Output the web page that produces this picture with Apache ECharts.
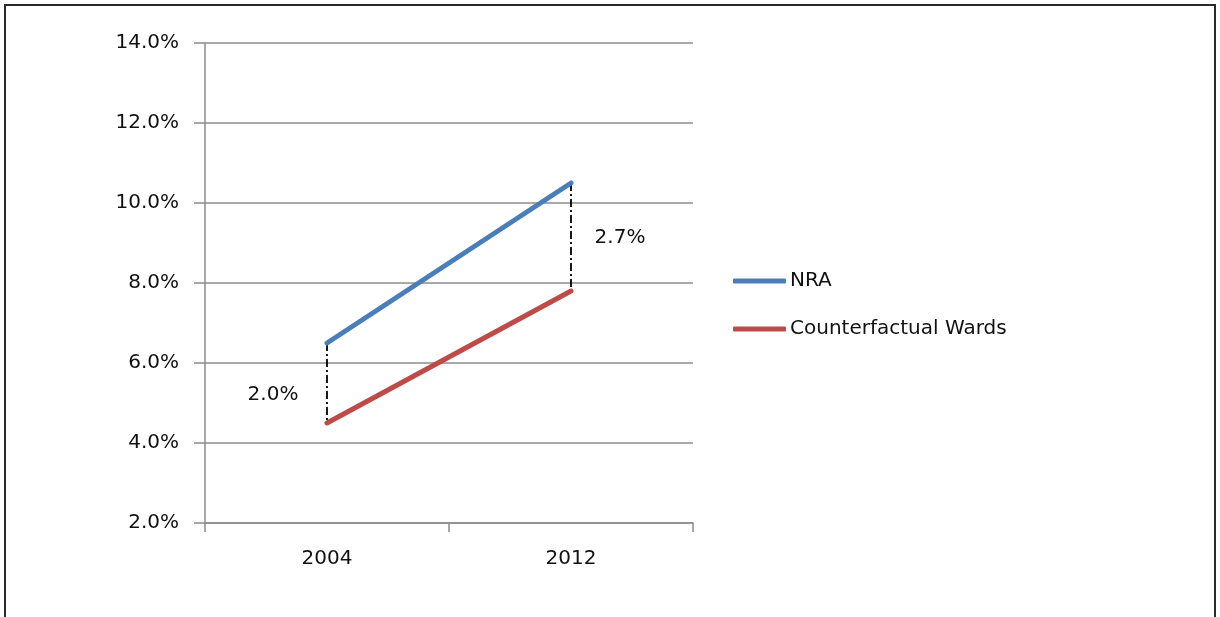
<!DOCTYPE html>
<html>
<head>
<meta charset="utf-8">
<script src="https://cdn.jsdelivr.net/npm/echarts@6/dist/echarts.min.js"></script>
<style>
  html, body { margin: 0; padding: 0; background: #fff; }
  #chart { width: 1220px; height: 617px; }
</style>
</head>
<body>
<div id="chart"></div>
<script>
// Years on the horizontal axis
const years = ['2004', '2012'];
// Shares in percent
const nra = [6.5, 10.5];
const counterfactualWards = [4.5, 7.8];
// Vertical axis range in percent
const yMin = 2;
const yMax = 14;
const yStep = 2;

const FONT = 'DejaVu Sans';
const TEXT = '#111111';
const GRID = '#8c8c8c';

const chart = echarts.init(document.getElementById('chart'), null, { renderer: 'canvas' });

// Gap between the two series at each year, drawn as a dash-dot connector
const gapLines = years.map((y, i) => [
  { coord: [i, nra[i]] },
  { coord: [i, counterfactualWards[i]] }
]);
// Gap labels sit halfway between the two lines
const gapLabelOffsets = [[-54, 12], [49, 1]];
const gapLabels = years.map((y, i) => ({
  value: [i, (nra[i] + counterfactualWards[i]) / 2],
  label: {
    show: true,
    formatter: (nra[i] - counterfactualWards[i]).toFixed(1) + '%',
    offset: gapLabelOffsets[i]
  }
}));

chart.setOption({
  backgroundColor: '#ffffff',
  animation: false,
  graphic: [{
    type: 'rect',
    shape: { x: 5, y: 5, width: 1210, height: 700 },
    style: { fill: 'none', stroke: '#2a2a2a', lineWidth: 2 },
    z: 100
  }],
  grid: { left: 205, right: 527, top: 43, bottom: 94 },
  legend: {
    orient: 'vertical',
    left: 733,
    top: 269,
    padding: 0,
    itemWidth: 53,
    itemHeight: 5,
    itemGap: 24,
    icon: 'roundRect',
    data: ['NRA', 'Counterfactual Wards'],
    textStyle: { fontFamily: FONT, fontSize: 20, color: TEXT, lineHeight: 24, padding: [0, 0, 0, -1] }
  },
  xAxis: {
    type: 'category',
    data: years,
    boundaryGap: true,
    axisLine: { lineStyle: { color: GRID, width: 1.5 } },
    axisTick: { show: true, length: 9, alignWithLabel: false, lineStyle: { color: GRID, width: 1.5 } },
    axisLabel: { fontFamily: FONT, fontSize: 20, color: TEXT, margin: 26 }
  },
  yAxis: {
    type: 'value',
    min: yMin,
    max: yMax,
    interval: yStep,
    axisLine: { show: true, lineStyle: { color: GRID, width: 1.5 } },
    axisTick: { show: true, length: 11, lineStyle: { color: GRID, width: 1.5 } },
    splitLine: { lineStyle: { color: GRID, width: 1.5 } },
    axisLabel: {
      fontFamily: FONT, fontSize: 20, color: TEXT, margin: 26,
      formatter: v => v.toFixed(1) + '%'
    }
  },
  series: [
    {
      name: 'NRA',
      type: 'line',
      data: nra,
      symbol: 'none',
      color: '#4a7ebb',
      lineStyle: { width: 5, color: '#4a7ebb', cap: 'round' },
      z: 3,
      markLine: {
        silent: true,
        symbol: 'none',
        label: { show: false },
        lineStyle: { color: '#000', width: 1.8, type: [8, 3, 2, 3], opacity: 1 },
        emphasis: { disabled: true },
        data: gapLines,
        z: 2
      }
    },
    {
      name: 'Counterfactual Wards',
      type: 'line',
      data: counterfactualWards,
      symbol: 'none',
      color: '#be4b48',
      lineStyle: { width: 5, color: '#be4b48', cap: 'round' },
      z: 3
    },
    {
      name: 'gap',
      type: 'scatter',
      symbolSize: 0,
      silent: true,
      data: gapLabels,
      itemStyle: { color: '#000', opacity: 1 },
      label: { fontFamily: FONT, fontSize: 20, color: TEXT, position: 'inside', opacity: 1 }
    }
  ]
});
</script>
</body>
</html>
